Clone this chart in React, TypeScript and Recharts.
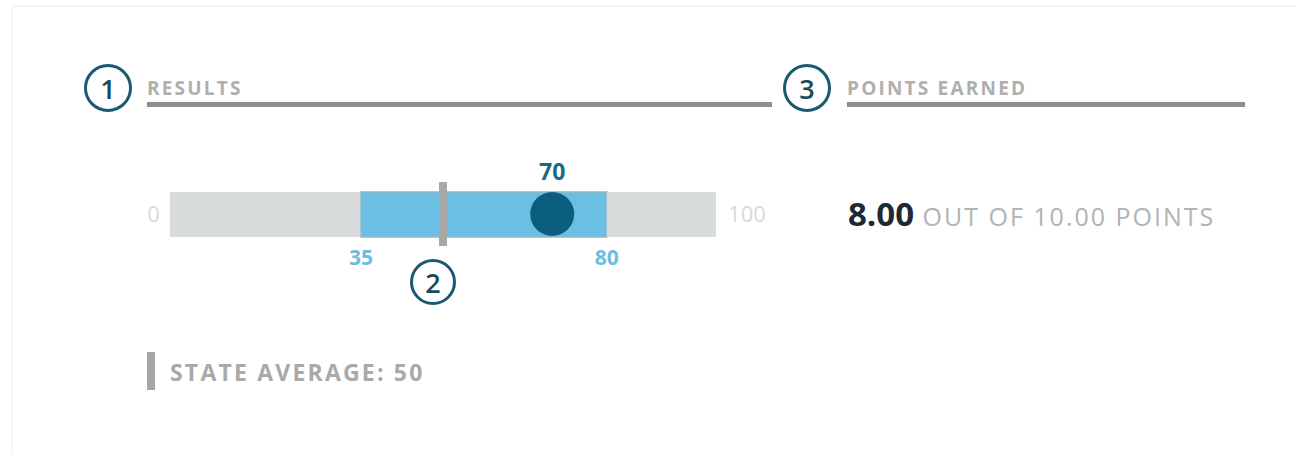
import React from "react";
import { ComposedChart, Bar, XAxis, YAxis, ReferenceLine, ReferenceDot } from "recharts";

// scale ends, reported range, student score and state average
const scaleBounds = [0, 100];
const rangeBounds = [35, 80];
const studentScore = [70];
const stateAverage = [50];
const rowNames = ["score"];
const pointsEarned = ["8.00"];
const pointsPossible = ["10.00"];

const FONT = "'Open Sans', 'Noto Sans', sans-serif";

const rows = rowNames.map((row) => ({
  row,
  below: rangeBounds[0] - scaleBounds[0],
  inRange: rangeBounds[1] - rangeBounds[0],
  above: scaleBounds[1] - rangeBounds[1],
}));

function StepBadge({ n, cx, cy, size = 48 }: { n: number; cx: number; cy: number; size?: number }) {
  return (
    <div
      style={{
        position: "absolute",
        left: cx - size / 2,
        top: cy - size / 2,
        width: size,
        height: size,
        boxSizing: "border-box",
        border: "3px solid #1b5873",
        borderRadius: "50%",
        display: "flex",
        alignItems: "center",
        justifyContent: "center",
        fontSize: 27,
        fontWeight: 600,
        color: "#1b4a5e",
        lineHeight: 1,
      }}
    >
      {n}
    </div>
  );
}

function SectionHeader({ text, left, width }: { text: string; left: number; width: number }) {
  return (
    <>
      <div
        style={{
          position: "absolute",
          left,
          top: 75,
          lineHeight: "26px",
          fontSize: 19,
          fontWeight: 700,
          letterSpacing: 2.2,
          color: "#afafaf",
          whiteSpace: "nowrap",
        }}
      >
        {text}
      </div>
      <div style={{ position: "absolute", left, top: 102, width, height: 5, background: "#928c8a" }} />
    </>
  );
}

export default function App() {
  const row = rowNames[0];
  const tickStyle = { fill: "#d9d9d9", fontSize: 22 };
  const rangeStyle = { fill: "#6cbde0", fontSize: 21, fontWeight: 700 };

  return (
    <div
      style={{
        position: "absolute",
        left: 0,
        top: 0,
        width: 1296,
        height: 454,
        overflow: "hidden",
        background: "#ffffff",
        fontFamily: FONT,
      }}
    >
      <div
        style={{
          position: "absolute",
          left: 12,
          top: 6,
          width: 1290,
          height: 470,
          border: "1px solid #efefef",
          boxShadow: "0 0 3px rgba(0,0,0,0.04)",
        }}
      />

      <StepBadge n={1} cx={108} cy={88} />
      <SectionHeader text="RESULTS" left={147} width={625} />
      <StepBadge n={3} cx={807} cy={88} />
      <SectionHeader text="POINTS EARNED" left={847} width={398} />

      <div style={{ position: "absolute", left: 130, top: 150 }}>
        <ComposedChart
          layout="vertical"
          width={680}
          height={140}
          data={rows}
          margin={{ top: 32, right: 94, bottom: 44, left: 40 }}
        >
          <XAxis type="number" domain={scaleBounds} hide />
          <YAxis type="category" dataKey="row" hide />
          <Bar dataKey="below" stackId="track" fill="#d8dcdd" barSize={45} isAnimationActive={false} />
          <Bar
            dataKey="inRange"
            stackId="track"
            fill="#6cbfe4"
            stroke="#93b6c5"
            strokeWidth={1.5}
            barSize={45}
            isAnimationActive={false}
          />
          <Bar dataKey="above" stackId="track" fill="#d8dcdd" barSize={45} isAnimationActive={false} />
          <ReferenceLine x={stateAverage[0]} stroke="#a8a8a8" strokeWidth={8} />
          <ReferenceDot
            x={scaleBounds[0]}
            y={row}
            r={0.1}
            fill="none"
            stroke="none"
            label={{ value: String(scaleBounds[0]), position: "left", offset: 10, ...tickStyle }}
          />
          <ReferenceDot
            x={scaleBounds[1]}
            y={row}
            r={0.1}
            fill="none"
            stroke="none"
            label={{ value: String(scaleBounds[1]), position: "right", offset: 12, ...tickStyle }}
          />
          {rangeBounds.map((v) => (
            <ReferenceDot
              key={v}
              x={v}
              y={row}
              r={0.1}
              fill="none"
              stroke="none"
              label={{ value: String(v), position: "bottom", offset: 36, ...rangeStyle }}
            />
          ))}
          <ReferenceDot
            x={studentScore[0]}
            y={row}
            r={22}
            fill="#0b5e7e"
            stroke="none"
            label={{ value: String(studentScore[0]), position: "top", offset: 12, fill: "#1a6a84", fontSize: 23, fontWeight: 700 }}
          />
        </ComposedChart>
      </div>

      <StepBadge n={2} cx={433} cy={282} size={46} />

      <div style={{ position: "absolute", left: 848, top: 194, lineHeight: "40px", whiteSpace: "nowrap" }}>
        <span style={{ fontSize: 33, fontWeight: 700, color: "#1d2a31" }}>{pointsEarned[0]}</span>
        <span style={{ fontSize: 25, letterSpacing: 2, color: "#b3b3b3" }}> OUT OF {pointsPossible[0]} POINTS</span>
      </div>

      <div style={{ position: "absolute", left: 147, top: 352, width: 8, height: 38, background: "#a7a7a7" }} />
      <div
        style={{
          position: "absolute",
          left: 170,
          top: 357,
          lineHeight: "30px",
          fontSize: 23,
          fontWeight: 700,
          letterSpacing: 2.2,
          color: "#a9a9a9",
          whiteSpace: "nowrap",
        }}
      >
        STATE AVERAGE: {stateAverage[0]}
      </div>
    </div>
  );
}
